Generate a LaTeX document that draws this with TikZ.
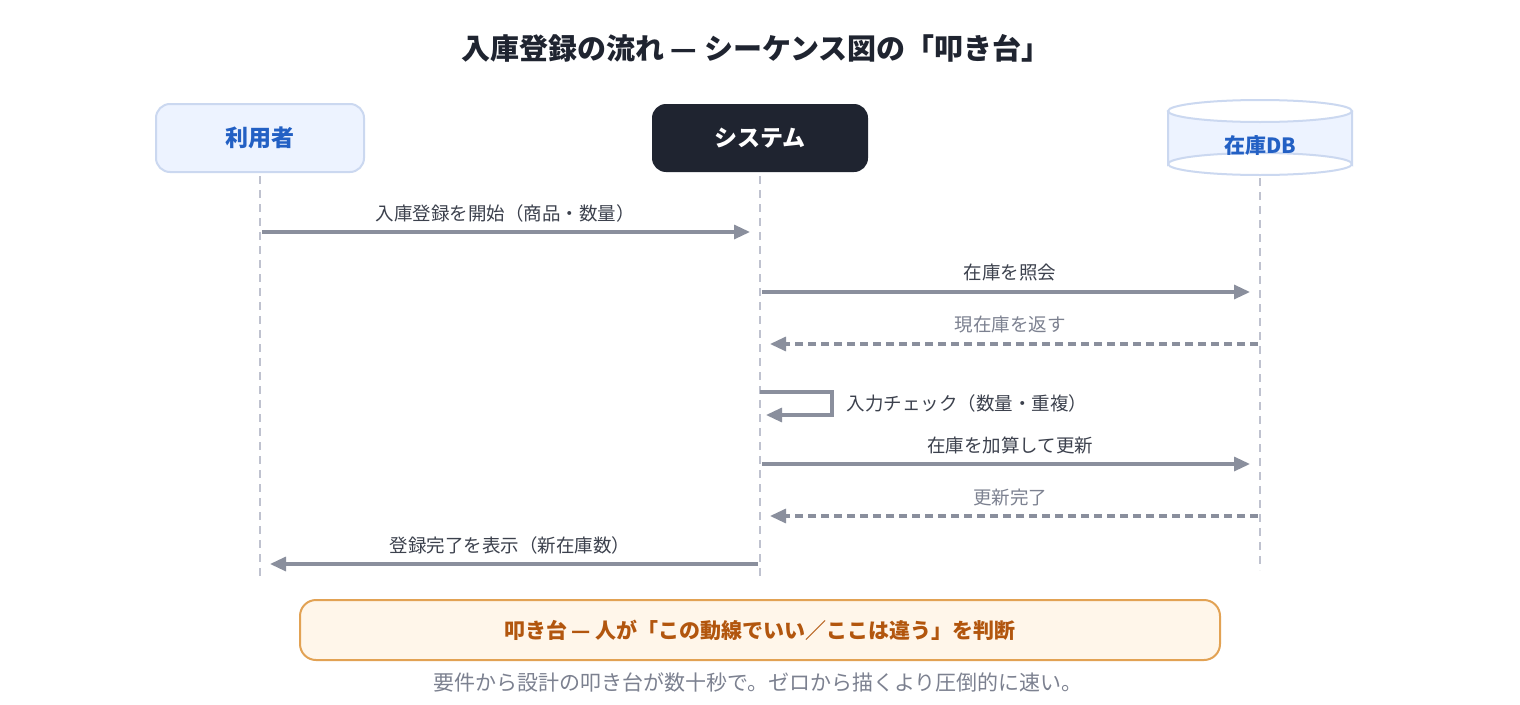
\documentclass[tikz,border=0pt]{standalone}
\usepackage{fontspec}
\setmainfont{Noto Sans CJK JP}
\newfontfamily\jp{Noto Sans CJK JP}
\usetikzlibrary{arrows.meta,shapes.geometric}
\definecolor{txtdark}{HTML}{1F2430}
\definecolor{actfill}{HTML}{EDF3FF}
\definecolor{actdraw}{HTML}{CBD8F0}
\definecolor{actblue}{HTML}{2360C4}
\definecolor{lifeln}{HTML}{BFC2CF}
\definecolor{msgln}{HTML}{8A8F9D}
\definecolor{msgtxt}{HTML}{3C414D}
\definecolor{rettxt}{HTML}{7C8190}
\definecolor{notefill}{HTML}{FFF6EA}
\definecolor{notedraw}{HTML}{E2A254}
\definecolor{notetxt}{HTML}{B2560E}
\begin{document}
\begin{tikzpicture}[x=1pt,y=-1pt,
  actorbox/.style={draw=actdraw,line width=2pt,fill=actfill,rounded corners=14pt,minimum width=208pt,minimum height=68pt,text=actblue,font=\jp\bfseries\fontsize{23}{27}\selectfont},
  sysbox/.style={fill=txtdark,rounded corners=14pt,minimum width=216pt,minimum height=68pt,text=white,font=\jp\bfseries\fontsize{23}{27}\selectfont},
  lifeline/.style={draw=lifeln,line width=2.6pt,dash pattern=on 8pt off 6pt},
  msg/.style={draw=msgln,line width=3.2pt,-{Triangle[length=16pt,width=14pt]}},
  ret/.style={msg,dash pattern=on 8pt off 5pt},
  msglbl/.style={text=msgtxt,font=\jp\fontsize{18.5}{22}\selectfont},
  retlbl/.style={text=rettxt,font=\jp\fontsize{18.5}{22}\selectfont}]
\useasboundingbox (0,0) rectangle (1520,704);
\fill[white] (0,0) rectangle (1520,704);
% title
\node[text=txtdark,font=\jp\bfseries\fontsize{29}{34}\selectfont] (title) at (756,48) {入庫登録の流れ — シーケンス図の「叩き台」};
% actors
\node[actorbox] (user) at (260,138) {利用者};
\node[sysbox] (sys) at (760,138) {システム};
% DB cylinder
\fill[actfill] (1168,111) -- (1168,164) arc[start angle=180,end angle=360,x radius=92,y radius=11] -- (1352,111) arc[start angle=0,end angle=180,x radius=92,y radius=11] -- cycle;
\draw[actdraw,line width=2pt] (1168,111) -- (1168,164) arc[start angle=180,end angle=360,x radius=92,y radius=11] -- (1352,111);
\draw[actdraw,line width=2pt] (1260,111) ellipse[x radius=92,y radius=11];
\draw[actdraw,line width=2pt] (1168,164) arc[start angle=180,end angle=0,x radius=92,y radius=11];
\node[text=actblue,font=\jp\bfseries\fontsize{21}{25}\selectfont] (db) at (1260,146) {在庫DB};
% lifelines
\coordinate (uTop) at (260,176); \coordinate (uBot) at (260,576);
\coordinate (sTop) at (760,176); \coordinate (sBot) at (760,576);
\coordinate (dTop) at (1260,178); \coordinate (dBot) at (1260,570);
\draw[lifeline] (uTop) -- (uBot);
\draw[lifeline] (sTop) -- (sBot);
\draw[lifeline] (dTop) -- (dBot);
% messages
\coordinate (m1a) at (262,232); \coordinate (m1b) at (750,232);
\draw[msg] (m1a) -- (m1b);
\node[msglbl] (l1) at (505,213) {入庫登録を開始（商品・数量）};
\coordinate (m2a) at (762,292); \coordinate (m2b) at (1250,292);
\draw[msg] (m2a) -- (m2b);
\node[msglbl] (l2) at (1010,273) {在庫を照会};
\coordinate (m3a) at (1258,344); \coordinate (m3b) at (770,344);
\draw[ret] (m3a) -- (m3b);
\node[retlbl] (l3) at (1010,325) {現在庫を返す};
\coordinate (m4a) at (760,392); \coordinate (m4c) at (832,392); \coordinate (m4d) at (832,415); \coordinate (m4b) at (766,415);
\draw[msg] (m4a) -- (m4c) -- (m4d) -- (m4b);
\node[msglbl,anchor=west] (l4) at (843,403) {入力チェック（数量・重複）};
\coordinate (m5a) at (762,464); \coordinate (m5b) at (1250,464);
\draw[msg] (m5a) -- (m5b);
\node[msglbl] (l5) at (1010,445) {在庫を加算して更新};
\coordinate (m6a) at (1258,516); \coordinate (m6b) at (770,516);
\draw[ret] (m6a) -- (m6b);
\node[retlbl] (l6) at (1010,497) {更新完了};
\coordinate (m7a) at (758,564); \coordinate (m7b) at (270,564);
\draw[msg] (m7a) -- (m7b);
\node[msglbl] (l7) at (510,545) {登録完了を表示（新在庫数）};
% note
\node[draw=notedraw,line width=2pt,fill=notefill,rounded corners=16pt,minimum width=920pt,minimum height=60pt,text=notetxt,font=\jp\bfseries\fontsize{21}{25}\selectfont] (note) at (760,630) {叩き台 — 人が「この動線でいい／ここは違う」を判断};
\node[text=rettxt,font=\jp\fontsize{21}{25}\selectfont] (cap) at (758,682) {要件から設計の叩き台が数十秒で。ゼロから描くより圧倒的に速い。};
\end{tikzpicture}
\end{document}
